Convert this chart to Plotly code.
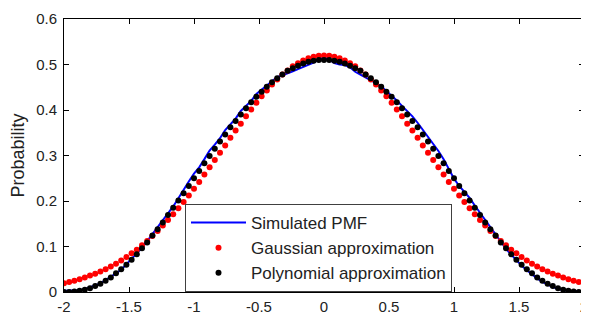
import plotly.graph_objects as go

x_vals = [-2.00, -1.96, -1.92, -1.88, -1.84, -1.80, -1.76, -1.72, -1.68, -1.64,
          -1.60, -1.56, -1.52, -1.48, -1.44, -1.40, -1.36, -1.32, -1.28, -1.24,
          -1.20, -1.16, -1.12, -1.08, -1.04, -1.00, -0.96, -0.92, -0.88, -0.84,
          -0.80, -0.76, -0.72, -0.68, -0.64, -0.60, -0.56, -0.52, -0.48, -0.44,
          -0.40, -0.36, -0.32, -0.28, -0.24, -0.20, -0.16, -0.12, -0.08, -0.04,
          0.00,
          0.04, 0.08, 0.12, 0.16, 0.20, 0.24, 0.28, 0.32, 0.36, 0.40,
          0.44, 0.48, 0.52, 0.56, 0.60, 0.64, 0.68, 0.72, 0.76, 0.80,
          0.84, 0.88, 0.92, 0.96, 1.00, 1.04, 1.08, 1.12, 1.16, 1.20,
          1.24, 1.28, 1.32, 1.36, 1.40, 1.44, 1.48, 1.52, 1.56, 1.60,
          1.64, 1.68, 1.72, 1.76, 1.80, 1.84, 1.88, 1.92, 1.96, 2.00]

simulated_pmf = [0.003, 0.003, 0.003, 0.004, 0.006, 0.010, 0.014, 0.019, 0.026, 0.033,
                 0.041, 0.049, 0.061, 0.072, 0.085, 0.097, 0.112, 0.127, 0.143, 0.158,
                 0.174, 0.188, 0.206, 0.226, 0.243, 0.260, 0.274, 0.292, 0.311, 0.324,
                 0.338, 0.356, 0.369, 0.381, 0.398, 0.409, 0.420, 0.435, 0.445, 0.453,
                 0.463, 0.472, 0.476, 0.481, 0.485, 0.490, 0.495, 0.500, 0.504, 0.511,
                 0.516,
                 0.511, 0.503, 0.500, 0.499, 0.494, 0.484, 0.478, 0.472, 0.465, 0.459,
                 0.452, 0.442, 0.432, 0.421, 0.409, 0.398, 0.386, 0.372, 0.357, 0.340,
                 0.325, 0.310, 0.292, 0.271, 0.249, 0.233, 0.220, 0.207, 0.190, 0.174,
                 0.157, 0.141, 0.126, 0.110, 0.095, 0.082, 0.069, 0.058, 0.048, 0.038,
                 0.030, 0.022, 0.016, 0.011, 0.007, 0.004, 0.003, 0.003, 0.002, 0.002]

gaussian_approx = [0.019, 0.022, 0.025, 0.028, 0.032, 0.036, 0.040, 0.045, 0.050, 0.056,
                   0.062, 0.069, 0.077, 0.085, 0.093, 0.103, 0.112, 0.123, 0.134, 0.146,
                   0.158, 0.171, 0.184, 0.198, 0.212, 0.227, 0.242, 0.258, 0.274, 0.290,
                   0.306, 0.322, 0.339, 0.355, 0.370, 0.386, 0.401, 0.416, 0.430, 0.443,
                   0.456, 0.467, 0.478, 0.487, 0.496, 0.503, 0.509, 0.514, 0.517, 0.519,
                   0.520,
                   0.519, 0.517, 0.514, 0.509, 0.503, 0.496, 0.487, 0.478, 0.467, 0.456,
                   0.443, 0.430, 0.416, 0.401, 0.386, 0.370, 0.355, 0.339, 0.322, 0.306,
                   0.290, 0.274, 0.258, 0.242, 0.227, 0.212, 0.198, 0.184, 0.171, 0.158,
                   0.146, 0.134, 0.123, 0.112, 0.103, 0.093, 0.085, 0.077, 0.069, 0.062,
                   0.056, 0.050, 0.045, 0.040, 0.036, 0.032, 0.028, 0.025, 0.022, 0.019]

polynomial_approx = [0.000, 0.000, 0.001, 0.003, 0.005, 0.008, 0.013, 0.018, 0.025, 0.032,
                     0.041, 0.050, 0.060, 0.071, 0.083, 0.096, 0.109, 0.124, 0.138, 0.153,
                     0.169, 0.185, 0.201, 0.217, 0.233, 0.250, 0.266, 0.283, 0.299, 0.315,
                     0.331, 0.346, 0.362, 0.376, 0.390, 0.404, 0.417, 0.429, 0.440, 0.451,
                     0.461, 0.470, 0.478, 0.486, 0.492, 0.497, 0.502, 0.506, 0.508, 0.510,
                     0.510,
                     0.510, 0.508, 0.506, 0.502, 0.497, 0.492, 0.486, 0.478, 0.470, 0.461,
                     0.451, 0.440, 0.429, 0.417, 0.404, 0.390, 0.376, 0.362, 0.346, 0.331,
                     0.315, 0.299, 0.283, 0.266, 0.250, 0.233, 0.217, 0.201, 0.185, 0.169,
                     0.153, 0.138, 0.124, 0.109, 0.096, 0.083, 0.071, 0.060, 0.050, 0.041,
                     0.032, 0.025, 0.018, 0.013, 0.008, 0.005, 0.003, 0.001, 0.000, 0.000]

x_tick_vals = [-2, -1.5, -1, -0.5, 0, 0.5, 1, 1.5, 2]
x_tick_text = ["-2", "-1.5", "-1", "-0.5", "0", "0.5", "1", "1.5", "2"]
y_tick_vals = [0, 0.1, 0.2, 0.3, 0.4, 0.5, 0.6]
y_tick_text = ["0", "0.1", "0.2", "0.3", "0.4", "0.5", "0.6"]

FONT = "Liberation Sans, Arial, sans-serif"
TXT = "#222"

fig = go.Figure()
fig.add_trace(go.Scatter(x=x_vals, y=simulated_pmf, mode="lines",
                         name="Simulated PMF",
                         line=dict(color="#0000FF", width=2)))
fig.add_trace(go.Scatter(x=x_vals, y=gaussian_approx, mode="markers",
                         name="Gaussian approximation",
                         marker=dict(color="#FF0000", size=6, symbol="circle")))
fig.add_trace(go.Scatter(x=x_vals, y=polynomial_approx, mode="markers",
                         name="Polynomial approximation",
                         marker=dict(color="#000000", size=6, symbol="circle")))

axis_common = dict(showline=True, linecolor="black", linewidth=1, mirror="ticks",
                   ticks="inside", ticklen=5, tickcolor="black", showgrid=False,
                   zeroline=False, automargin=False, ticklabeloverflow="allow",
                   tickfont=dict(family=FONT, size=15, color=TXT))

# the page body adds an 8px offset; margins are set so the plot area lands
# where the reference has it inside the 589x314 window
fig.update_layout(
    width=589, height=314,
    margin=dict(l=56, r=13, t=11, b=30),
    paper_bgcolor="white", plot_bgcolor="white",
    font=dict(family=FONT, size=15, color=TXT),
    xaxis=dict(range=[-2, 2], tickmode="array", tickvals=x_tick_vals,
               ticktext=x_tick_text, ticklabelstandoff=1, **axis_common),
    yaxis=dict(range=[0, 0.6], tickmode="array", tickvals=y_tick_vals,
               ticktext=y_tick_text, ticklabelstandoff=3,
               title=dict(text="Probability", font=dict(family=FONT, size=18, color=TXT),
                          standoff=6),
               **axis_common),
    legend=dict(x=0.2327, y=0.3223, xanchor="left", yanchor="top",
                bgcolor="white", bordercolor="#404040", borderwidth=1,
                font=dict(family=FONT, size=17, color=TXT),
                itemwidth=55, tracegroupgap=0),
    showlegend=True,
)

fig.write_html("out.html")
